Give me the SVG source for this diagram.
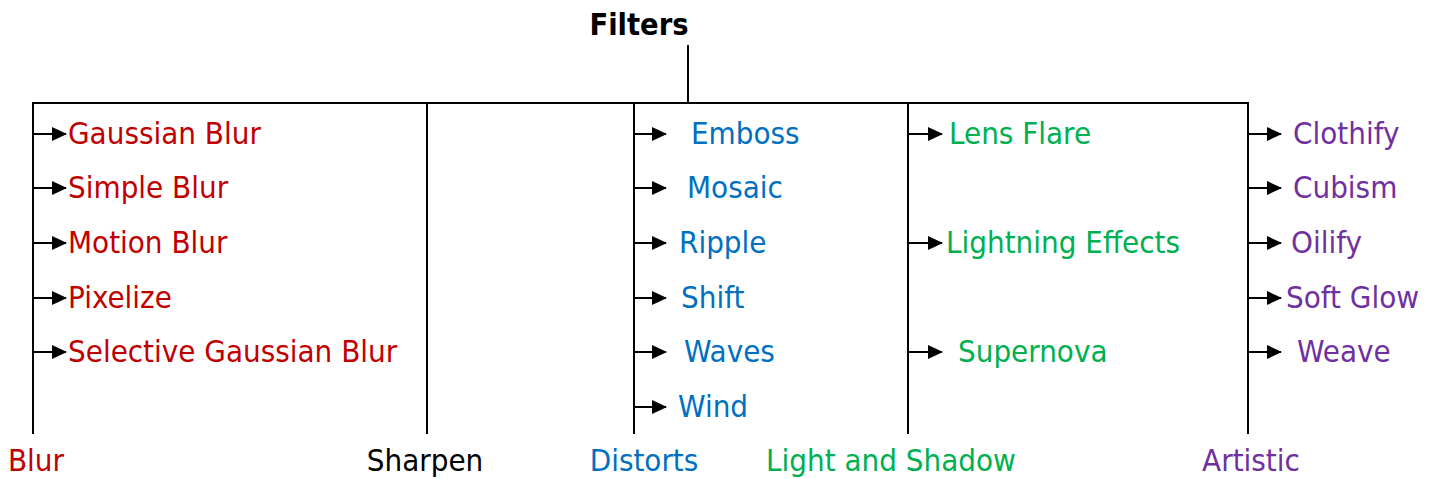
<svg xmlns="http://www.w3.org/2000/svg" width="1437" height="479" viewBox="0 0 1437 479">
<defs>
<style>
text{font-family:"DejaVu Sans Condensed","DejaVu Sans",sans-serif;font-stretch:condensed;font-size:31px}
.title{font-weight:bold;fill:#000;font-size:30.5px}
.red{fill:#C00000}.blue{fill:#0070C0}.green{fill:#00B050}.purple{fill:#7030A0}.black{fill:#000}
.ln{stroke:#000;stroke-width:2;fill:none}
.ar{stroke:#000;stroke-width:2;fill:none;marker-end:url(#ah)}
</style>
<marker id="ah" markerUnits="userSpaceOnUse" markerWidth="15" markerHeight="15" refX="14" refY="7.5" orient="auto" viewBox="0 0 15 15">
<path d="M0,0.5 L15,7.5 L0,14.5 z" fill="#000"/>
</marker>
</defs>
<g id="connectors">
<line class="ln" x1="688" y1="45" x2="688" y2="103"/>
<line class="ln" x1="32" y1="103" x2="1249" y2="103"/>
<line class="ln" x1="33" y1="103" x2="33" y2="434"/>
<line class="ln" x1="427" y1="103" x2="427" y2="434"/>
<line class="ln" x1="634" y1="103" x2="634" y2="434"/>
<line class="ln" x1="908" y1="103" x2="908" y2="434"/>
<line class="ln" x1="1248" y1="103" x2="1248" y2="434"/>
<line class="ar" x1="33" y1="134" x2="66" y2="134"/>
<line class="ar" x1="33" y1="188" x2="66" y2="188"/>
<line class="ar" x1="33" y1="243" x2="66" y2="243"/>
<line class="ar" x1="33" y1="298" x2="66" y2="298"/>
<line class="ar" x1="33" y1="352" x2="66" y2="352"/>
<line class="ar" x1="634" y1="134" x2="666" y2="134"/>
<line class="ar" x1="634" y1="188" x2="666" y2="188"/>
<line class="ar" x1="634" y1="243" x2="666" y2="243"/>
<line class="ar" x1="634" y1="298" x2="666" y2="298"/>
<line class="ar" x1="634" y1="352" x2="666" y2="352"/>
<line class="ar" x1="634" y1="407" x2="666" y2="407"/>
<line class="ar" x1="908" y1="134" x2="942" y2="134"/>
<line class="ar" x1="908" y1="243" x2="942" y2="243"/>
<line class="ar" x1="908" y1="352" x2="942" y2="352"/>
<line class="ar" x1="1248" y1="134" x2="1281" y2="134"/>
<line class="ar" x1="1248" y1="188" x2="1281" y2="188"/>
<line class="ar" x1="1248" y1="243" x2="1281" y2="243"/>
<line class="ar" x1="1248" y1="298" x2="1281" y2="298"/>
<line class="ar" x1="1248" y1="352" x2="1281" y2="352"/>
</g>
<g id="filters"><text class="title" x="639" y="35" text-anchor="middle">Filters</text></g>
<g id="blur">
<text class="red" x="36" y="471" text-anchor="middle">Blur</text>
<text class="red" x="68" y="144">Gaussian Blur</text>
<text class="red" x="68" y="198">Simple Blur</text>
<text class="red" x="68" y="253">Motion Blur</text>
<text class="red" x="68" y="308">Pixelize</text>
<text class="red" x="68" y="362">Selective Gaussian Blur</text>
</g>
<g id="sharpen"><text class="black" x="425" y="471" text-anchor="middle">Sharpen</text></g>
<g id="distorts">
<text class="blue" x="644" y="471" text-anchor="middle">Distorts</text>
<text class="blue" x="691" y="144">Emboss</text>
<text class="blue" x="687" y="198">Mosaic</text>
<text class="blue" x="679" y="253">Ripple</text>
<text class="blue" x="681" y="308">Shift</text>
<text class="blue" x="684" y="362">Waves</text>
<text class="blue" x="678" y="417">Wind</text>
</g>
<g id="light-and-shadow">
<text class="green" x="891" y="471" text-anchor="middle">Light and Shadow</text>
<text class="green" x="949" y="144">Lens Flare</text>
<text class="green" x="946" y="253">Lightning Effects</text>
<text class="green" x="958" y="362">Supernova</text>
</g>
<g id="artistic">
<text class="purple" x="1251" y="471" text-anchor="middle">Artistic</text>
<text class="purple" x="1293" y="144">Clothify</text>
<text class="purple" x="1293" y="198">Cubism</text>
<text class="purple" x="1291" y="253">Oilify</text>
<text class="purple" x="1286" y="308">Soft Glow</text>
<text class="purple" x="1297" y="362">Weave</text>
</g>
</svg>
